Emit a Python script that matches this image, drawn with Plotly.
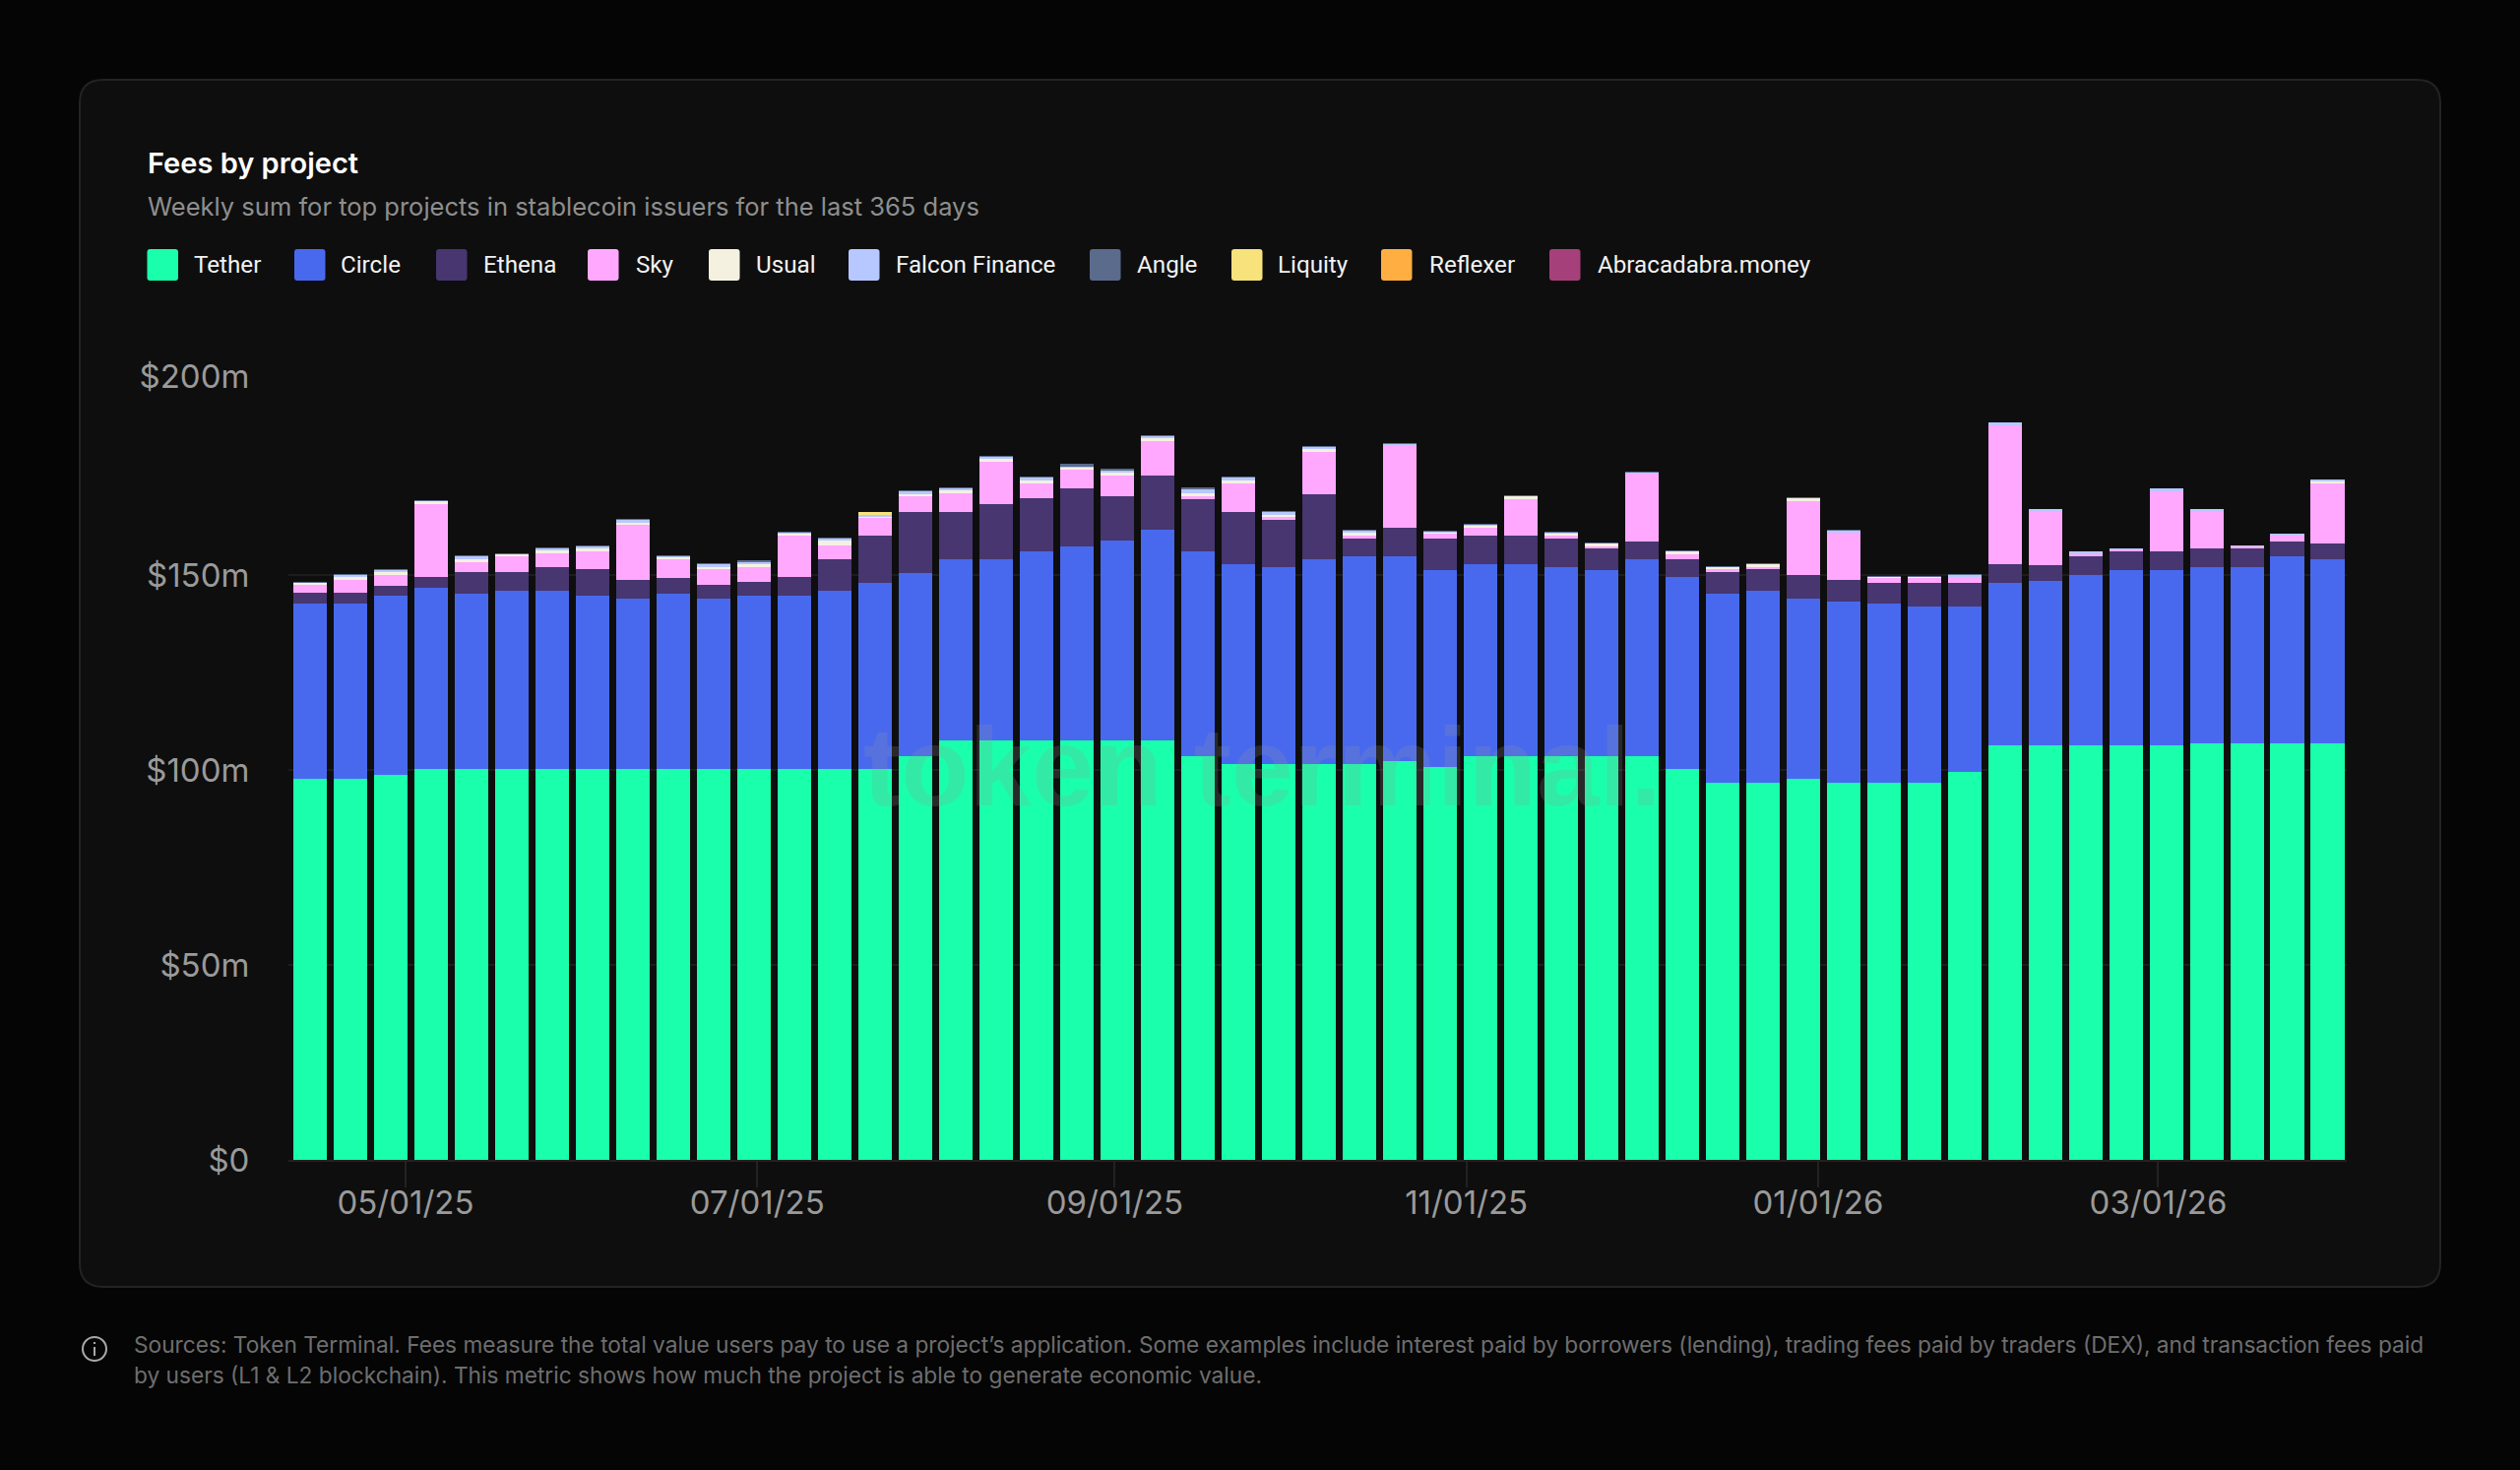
import pandas as pd
import plotly.graph_objects as go

W, H = 2560, 1493
FONT = "Inter"

projects = ["Tether", "Circle", "Ethena", "Sky", "Usual", "Falcon Finance", "Angle", "Liquity", "Reflexer", "Abracadabra.money"]
colors = ["#1AFFAB", "#4869EE", "#47366F", "#FFA8FE", "#F5F1E1", "#B6C8FF", "#5A6B8C", "#F7E27C", "#FFAE42", "#A5407A"]

tether = [97.6, 97.6, 98.8, 100.3, 100.3, 100.3, 100.3, 100.3, 100.3, 100.3, 100.3, 100.3, 100.3, 100.3, 100.3,
          103.5, 107.6, 107.6, 107.6, 107.6, 107.6, 107.6, 103.5, 101.5, 101.5, 101.5, 101.5, 102.2, 100.8,
          103.5, 103.5, 103.5, 103.5, 103.5, 100.3, 96.8, 96.8, 97.6, 96.8, 96.8, 96.8, 99.5,
          106.2, 106.2, 106.2, 106.2, 106.2, 106.9, 106.9, 106.9, 106.9]
circle = [45.0, 45.0, 45.8, 46.4, 45.0, 45.7, 45.7, 44.4, 43.7, 45.0, 43.7, 44.4, 44.4, 45.7, 47.7,
          47.1, 46.5, 46.5, 48.5, 49.8, 51.2, 53.9, 52.5, 51.2, 50.5, 52.5, 53.2, 52.5, 50.5,
          49.2, 49.2, 48.5, 47.8, 50.5, 49.1, 48.5, 49.2, 46.4, 46.5, 45.8, 45.1, 42.4,
          41.8, 42.4, 43.8, 45.1, 45.1, 45.1, 45.1, 47.8, 47.1]
ethena = [2.8, 2.8, 2.7, 2.7, 5.4, 4.7, 6.1, 6.7, 4.7, 4.0, 3.4, 3.4, 4.7, 8.1, 12.1,
          15.5, 12.1, 14.1, 13.5, 14.8, 11.4, 14.1, 13.5, 13.5, 12.1, 16.8, 4.7, 7.4, 8.1,
          7.4, 7.4, 7.4, 5.4, 4.7, 4.7, 5.4, 5.4, 6.1, 5.4, 5.4, 6.1, 6.1,
          4.7, 4.0, 4.7, 4.7, 4.7, 4.7, 4.7, 4.0, 4.0]
sky = [2.0, 3.3, 2.7, 18.9, 2.7, 4.0, 3.4, 4.7, 14.1, 4.7, 4.0, 4.0, 10.8, 3.4, 4.7,
       4.0, 4.7, 10.8, 4.0, 4.7, 5.4, 8.8, 0.7, 7.4, 0.7, 10.8, 0.7, 20.9, 1.3,
       2.0, 9.4, 0.7, 0.7, 17.5, 1.3, 0.7, 0.7, 18.9, 12.1, 1.3, 1.3, 1.5,
       35.7, 13.5, 0.7, 0.7, 15.5, 9.4, 0.7, 1.3, 15.5]
usual = [0.6, 0.7, 0.7, 0.7, 0.7, 0.7, 0.7, 0.7, 0.7, 0.7, 0.7, 0.7, 0.6, 1.3, 0.3,
         0.7, 0.7, 0.7, 0.7, 0.7, 0.7, 0.7, 0.7, 0.7, 0.7, 0.7, 0.7, 0.0, 0.3,
         0.7, 0.7, 0.7, 0.7, 0.0, 0.7, 0.7, 0.7, 0.7, 0.0, 0.2, 0.2, 0.0,
         0.0, 0.0, 0.0, 0.0, 0.0, 0.0, 0.0, 0.0, 0.7]
falcon = [0.1, 0.7, 0.7, 0.05, 0.7, 0.05, 0.7, 0.7, 0.7, 0.2, 0.7, 0.7, 0.05, 0.7, 0.3,
          0.7, 0.7, 0.7, 0.7, 0.2, 0.7, 0.7, 1.3, 0.7, 0.7, 0.7, 0.7, 0.7, 0.3,
          0.1, 0.1, 0.1, 0.1, 0.1, 0.1, 0.1, 0.1, 0.1, 0.7, 0.05, 0.05, 0.5,
          0.7, 0.7, 0.7, 0.1, 0.7, 0.7, 0.1, 0.7, 0.1]
angle = [0.05, 0.05, 0.05, 0.05, 0.05, 0.05, 0.05, 0.05, 0.05, 0.05, 0.05, 0.05, 0.05, 0.05, 0.05,
         0.05, 0.05, 0.05, 0.05, 0.7, 0.05, 0.05, 0.05, 0.05, 0.05, 0.05, 0.05, 0.05, 0.05,
         0.05, 0.05, 0.05, 0.05, 0.05, 0.05, 0.05, 0.05, 0.05, 0.05, 0.05, 0.05, 0.05,
         0.0, 0.0, 0.0, 0.0, 0.0, 0.0, 0.0, 0.0, 0.0]
liquity = [0.0] * 14 + [0.7] + [0.0] * 36
reflexer = [0.0] * 51
abracadabra = [0.0] * 51
series = [tether, circle, ethena, sky, usual, falcon, angle, liquity, reflexer, abracadabra]

weeks = pd.date_range("2025-04-14 09:20", periods=51, freq="7D")
x_ticks = ["2025-05-01", "2025-07-01", "2025-09-01", "2025-11-01", "2026-01-01", "2026-03-01"]
x_labels = ["05/01/25", "07/01/25", "09/01/25", "11/01/25", "01/01/26", "03/01/26"]
y_ticks = [0, 50, 100, 150, 201]
y_labels = ["$0", "$50m", "$100m", "$150m", "$200m"]

title = "Fees by project"
subtitle = "Weekly sum for top projects in stablecoin issuers for the last 365 days"
note1 = "Sources: Token Terminal. Fees measure the total value users pay to use a project\u2019s application. Some examples include interest paid by borrowers (lending), trading fees paid by traders (DEX), and transaction fees paid"
note2 = "by users (L1 & L2 blockchain). This metric shows how much the project is able to generate economic value."

legend_swatch_x = [149.5, 299, 443, 597, 720, 862, 1107, 1251, 1403, 1574]
legend_text_x = [197, 346, 491, 646, 768, 910, 1155, 1298, 1452, 1623]


def px(x):
    return x / W


def py(y):
    return 1 - y / H


def rounded(x0, y0, x1, y1, r):
    return (
        f"M {px(x0 + r)} {py(y0)} L {px(x1 - r)} {py(y0)} Q {px(x1)} {py(y0)} {px(x1)} {py(y0 + r)} "
        f"L {px(x1)} {py(y1 - r)} Q {px(x1)} {py(y1)} {px(x1 - r)} {py(y1)} "
        f"L {px(x0 + r)} {py(y1)} Q {px(x0)} {py(y1)} {px(x0)} {py(y1 - r)} "
        f"L {px(x0)} {py(y0 + r)} Q {px(x0)} {py(y0)} {px(x0 + r)} {py(y0)} Z"
    )


fig = go.Figure()
for name, vals, col in zip(projects, series, colors):
    fig.add_trace(go.Bar(x=weeks, y=vals, name=name, marker=dict(color=col, line=dict(width=0)), showlegend=False))

shapes = [
    dict(type="path", xref="paper", yref="paper", path=rounded(81, 81, 2479, 1307, 24),
         fillcolor="#0E0E0E", line=dict(color="#232323", width=2), layer="below"),
    dict(type="circle", xref="paper", yref="paper", x0=px(84), x1=px(108), y0=py(1358), y1=py(1382),
         fillcolor="rgba(0,0,0,0)", line=dict(color="#A8A8A8", width=2), layer="above"),
    dict(type="line", xref="paper", yref="paper", x0=px(96), x1=px(96), y0=py(1368), y1=py(1377),
         line=dict(color="#A8A8A8", width=2), layer="above"),
    dict(type="line", xref="paper", yref="paper", x0=px(96), x1=px(96), y0=py(1363), y1=py(1365),
         line=dict(color="#A8A8A8", width=2), layer="above"),
]
annotations = []


def text(x, y, s, size, color, weight=400, xanchor="left", family=FONT):
    annotations.append(dict(xref="paper", yref="paper", x=px(x), y=py(y), text=s, showarrow=False,
                            xanchor=xanchor, yanchor="middle", align="left",
                            font=dict(family=family, size=size, color=color, weight=weight),
                            borderpad=0, borderwidth=0))


text(150, 165, title, 29, "#FFFFFF", 600)
text(150, 209, subtitle, 25.5, "#8E8E8E")
text(136, 1365, note1, 22.7, "#6E6E6E")
text(136, 1396, note2, 22.7, "#6E6E6E")
for name, col, sx, tx in zip(projects, colors, legend_swatch_x, legend_text_x):
    shapes.append(dict(type="path", xref="paper", yref="paper", path=rounded(sx, 253, sx + 31.5, 285, 3),
                       fillcolor=col, line=dict(width=0), layer="below"))
    text(tx, 269, name, 24.2, "#F2F2F2", family="Roboto")

annotations.append(dict(xref="paper", yref="paper", x=px(1282), y=py(778), text="token terminal.", showarrow=False,
                        xanchor="center", yanchor="middle",
                        font=dict(family="Liberation Sans", size=114, color="rgba(150,150,150,0.2)", weight=700)))

fig.update_layout(
    width=W, height=H, autosize=False,
    margin=dict(l=0, r=0, t=0, b=0, pad=0),
    paper_bgcolor="#050505", plot_bgcolor="rgba(0,0,0,0)",
    barmode="stack", bargap=0.165,
    font=dict(family=FONT),
    shapes=shapes, annotations=annotations,
    xaxis=dict(domain=[px(293), px(2384)], range=["2025-04-10 16:20", "2026-04-02 16:48"], type="date",
               automargin=False,
               tickvals=x_ticks, ticktext=x_labels, ticks="outside", ticklen=26, tickcolor="#222222", tickwidth=2,
               ticklabelstandoff=-13,
               tickfont=dict(family=FONT, size=33, color="#9A9A9A"), showgrid=False, zeroline=False,
               showline=True, linecolor="#222222", linewidth=2),
    yaxis=dict(domain=[py(1178), py(382)], range=[0, 201], automargin=False,
               tickvals=y_ticks, ticktext=y_labels, ticks="outside", ticklen=32, tickcolor="rgba(0,0,0,0)",
               tickfont=dict(family=FONT, size=33, color="#9A9A9A"), showgrid=True, gridcolor="#1C1C1C",
               gridwidth=2, zeroline=False, showline=False),
)

fig.write_html("out.html", config={"displayModeBar": False},
               post_script="document.body.style.margin='0';document.body.style.background='#050505';")
